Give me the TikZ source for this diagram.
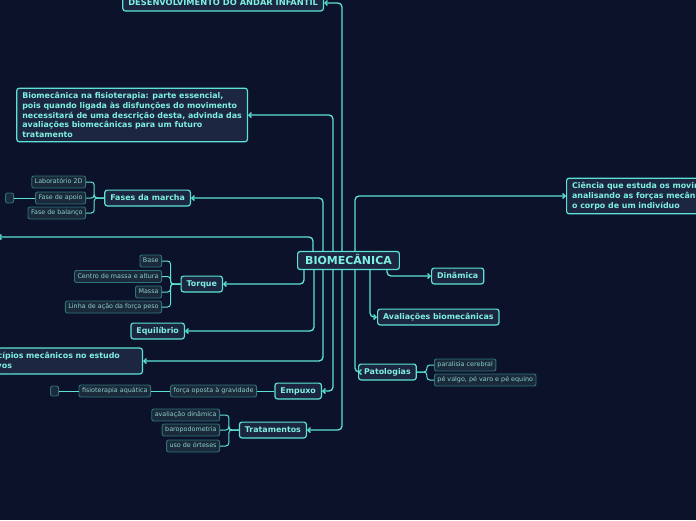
\documentclass[tikz,border=0pt]{standalone}
\usepackage{fontspec}
\setmainfont{DejaVu Sans}
\usetikzlibrary{arrows.meta}

\definecolor{bgnavy}{HTML}{0B1229}
\definecolor{boxfill}{HTML}{1D2640}
\definecolor{cyanline}{HTML}{5CE3D6}
\definecolor{cyantext}{HTML}{7EF0E2}
\definecolor{leaffill}{HTML}{1A2A3B}
\definecolor{leafline}{HTML}{2E7479}
\definecolor{leaftext}{HTML}{8CCFCB}

\begin{document}
\begin{tikzpicture}[x=1pt, y=-1pt,
  box/.style={draw=cyanline, fill=boxfill, line width=1.2pt, rounded corners=2.5pt,
    text=cyantext, font=\bfseries\fontsize{7.9}{9.8}\selectfont, inner xsep=5.5pt, inner ysep=4pt},
  topic/.style={box, text height=6pt, text depth=1.8pt},
  note/.style={box, align=left},
  leaf/.style={draw=leafline, fill=leaffill, line width=0.9pt, rounded corners=2pt,
    text=leaftext, font=\fontsize{6.4}{7}\selectfont, inner xsep=3pt, inner ysep=3pt,
    text height=4.6pt, text depth=1.4pt},
  stub/.style={leaf, inner sep=0pt, minimum width=8pt, minimum height=10pt},
  link/.style={draw=cyanline, line width=1.3pt, rounded corners=4pt,
    -{Straight Barb[length=2.5pt, width=5pt]}},
  twig/.style={draw=cyanline, line width=1pt, rounded corners=3pt}]

  % --- fundo ---
  \useasboundingbox (0,0) rectangle (696,520);
  \fill[bgnavy] (0,0) rectangle (696,520);

  % --- tema central ---
  \node[topic, font=\bfseries\fontsize{11}{12}\selectfont, inner xsep=7.5pt, inner ysep=5pt,
        text height=8pt, text depth=0pt] (bio) at (348.5,260.5) {BIOMECÂNICA};

  % --- ramos da esquerda ---
  \node[topic, anchor=east, font=\bfseries\fontsize{8.3}{9.8}\selectfont] (des) at (324,3)
    {DESENVOLVIMENTO DO ANDAR INFANTIL};
  \node[note, anchor=east] (fis) at (248,115)
    {Biomecânica na fisioterapia: parte essencial,\\
     pois quando ligada às disfunções do movimento\\
     necessitará de uma descrição desta, advinda das\\
     avaliações biomecânicas para um futuro\\
     tratamento};
  \node[topic, anchor=east] (fases) at (191,198) {Fases da marcha};
  \coordinate (fora) at (-2,237);
  \node[topic, anchor=east] (torque) at (223,284) {Torque};
  \node[topic, anchor=east] (equil) at (185,331) {Equilíbrio};
  \node[note, anchor=east, text width=216pt] (princ) at (143,361)
    {Aplicação de princípios mecânicos no estudo\\ de organismos vivos};
  \node[topic, anchor=east] (empuxo) at (322,391) {Empuxo};
  \node[topic, anchor=east] (trat) at (307,430) {Tratamentos};

  % --- ramos da direita ---
  \node[note, anchor=west] (cien) at (566,196)
    {Ciência que estuda os movimentos humanos,\\
     analisando as forças mecânicas que atuam sobre\\
     o corpo de um indivíduo};
  \node[topic, anchor=west] (din) at (431,276) {Dinâmica};
  \node[topic, anchor=west] (aval) at (377,317) {Avaliações biomecânicas};
  \node[topic, anchor=west] (pato) at (358,372) {Patologias};

  % --- folhas ---
  \node[leaf, anchor=east] (lab) at (86,182) {Laboratório 2D};
  \node[leaf, anchor=east] (apoio) at (86,198) {Fase de apoio};
  \node[leaf, anchor=east] (balanco) at (86,213) {Fase de balanço};
  \node[stub, anchor=east] (stubA) at (14,198) {};

  \node[leaf, anchor=east] (base) at (162,261) {Base};
  \node[leaf, anchor=east] (centro) at (162,276.5) {Centro de massa e altura};
  \node[leaf, anchor=east] (massa) at (162,292) {Massa};
  \node[leaf, anchor=east] (linha) at (162,307) {Linha de ação da força peso};

  \node[leaf, anchor=east] (forca) at (257,391) {força oposta à gravidade};
  \node[leaf, anchor=east] (fisio) at (151,391) {fisioterapia aquática};
  \node[stub, anchor=east] (stubB) at (59,391) {};

  \node[leaf, anchor=east] (avdin) at (220,415) {avaliação dinâmica};
  \node[leaf, anchor=east] (baro) at (220,430) {baropodometria};
  \node[leaf, anchor=east] (orteses) at (220,446) {uso de órteses};

  \node[leaf, anchor=west] (paral) at (434,365) {paralisia cerebral};
  \node[leaf, anchor=west] (valgo) at (434,380) {pé valgo, pé varo e pé equino};

  % --- ligações do tema central (por cima) ---
  \draw[link] (bio.north -| 342,0) |- (des.east);
  \draw[link] (bio.north -| 333,0) |- (fis.east);
  \draw[link] (bio.north -| 323,0) |- (fases.east);
  \draw[link] (bio.north -| 313,0) |- (fora);
  \draw[link] (bio.north -| 355,0) |- (cien.west);

  % --- ligações do tema central (por baixo) ---
  \draw[link] (bio.south -| 304,0) |- (torque.east);
  \draw[link] (bio.south -| 314,0) |- (equil.east);
  \draw[link] (bio.south -| 323,0) |- (princ.east);
  \draw[link] (bio.south -| 333,0) |- (empuxo.east);
  \draw[link] (bio.south -| 342,0) |- (trat.east);
  \draw[link] (bio.south -| 355,0) |- (pato.west);
  \draw[link] (bio.south -| 370,0) |- (aval.west);
  \draw[link] (bio.south -| 387,0) |- (din.west);

  % --- ligações das folhas ---
  \foreach \f in {lab, apoio, balanco}
    \draw[twig] (fases.west) -- ++(-10,0) |- (\f.east);
  \draw[twig] (apoio.west) -- (stubA.east);

  \foreach \f in {base, centro, massa, linha}
    \draw[twig] (torque.west) -- ++(-10,0) |- (\f.east);

  \draw[twig] (empuxo.west) -- (forca.east);
  \draw[twig] (forca.west) -- (fisio.east);
  \draw[twig] (fisio.west) -- (stubB.east);

  \foreach \f in {avdin, baro, orteses}
    \draw[twig] (trat.west) -- ++(-10,0) |- (\f.east);

  \foreach \f in {paral, valgo}
    \draw[twig] (pato.east) -- ++(10,0) |- (\f.west);

\end{tikzpicture}
\end{document}
